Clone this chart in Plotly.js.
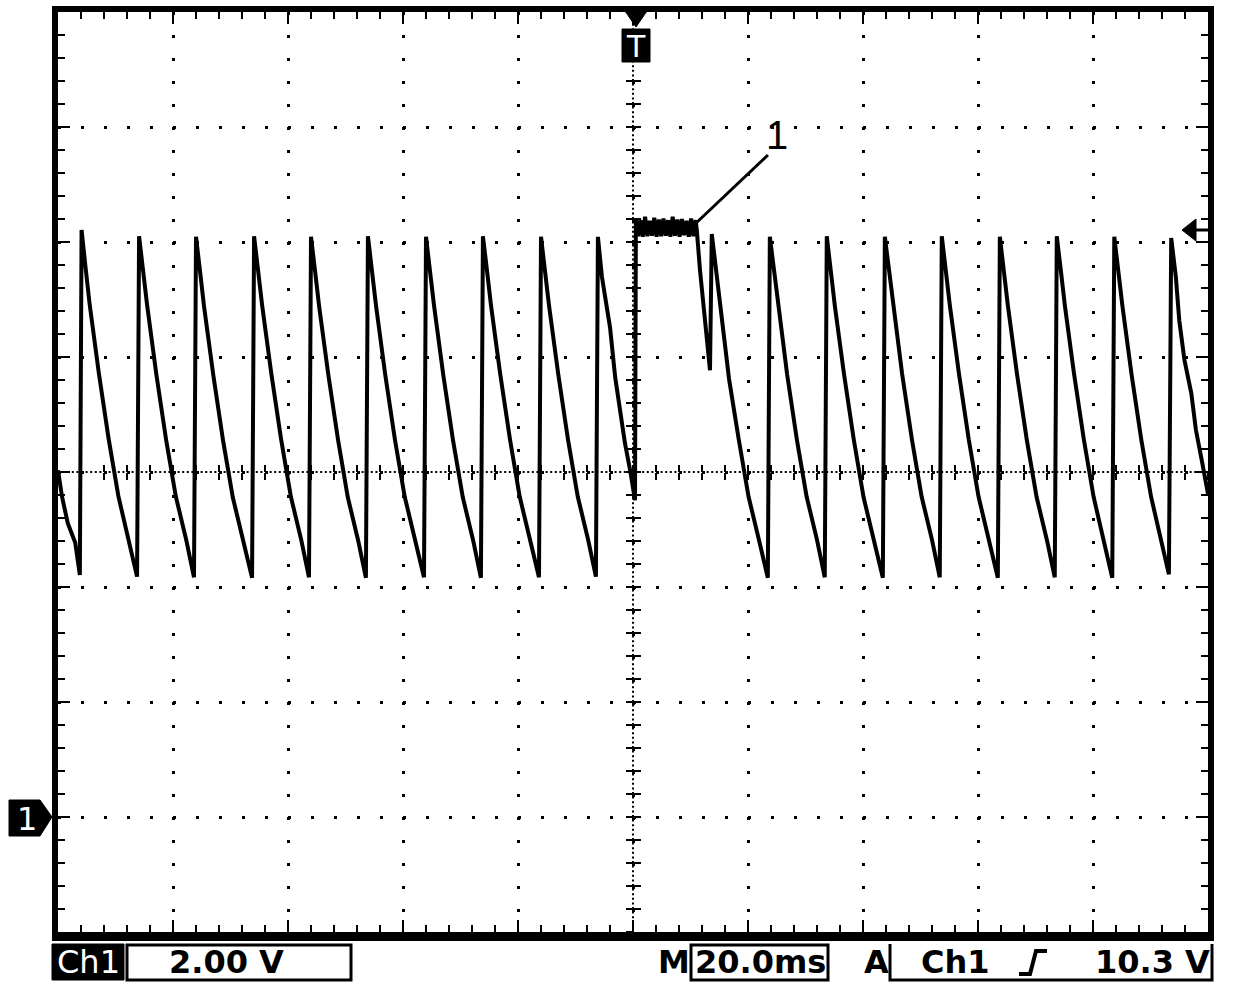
<!DOCTYPE html>
<html>
<head>
<meta charset="utf-8">
<script src="https://cdn.plot.ly/plotly-3.0.1.min.js"></script>
<style>
  html, body { margin: 0; padding: 0; background: #ffffff; }
  #chart { width: 1248px; height: 992px; }
</style>
</head>
<body>
<div id="chart"></div>
<script>
// ---- Data (time in ms, voltage in V) ----
const timeMs = [
  -100, -99.3, -98.3, -97.0, -96.2,
  -95.9, -95.2, -94.5, -92.9, -91.2, -89.5, -87.7, -86.25,
  -85.9, -85.2, -84.5, -82.9, -81.2, -79.5, -77.7, -76.35,
  -76.0, -75.3, -74.6, -73.0, -71.3, -69.6, -67.8, -66.25,
  -65.9, -65.2, -64.5, -62.9, -61.2, -59.5, -57.7, -56.35,
  -56.0, -55.3, -54.6, -53.0, -51.3, -49.6, -47.8, -46.45,
  -46.1, -45.4, -44.7, -43.1, -41.4, -39.7, -37.9, -36.35,
  -36.0, -35.3, -34.6, -33.0, -31.3, -29.6, -27.8, -26.45,
  -26.1, -25.4, -24.7, -23.1, -21.4, -19.7, -17.9, -16.35,
  -16.0, -15.3, -14.6, -13.0, -11.3, -9.6, -7.8, -6.45,
  -6.1, -5.4, -4.9, -4.0, -3.1, -2.3, -1.4, -0.5, 0.35,
  0.5, 0.9, 1.3, 1.7, 2.1, 2.5, 2.9, 3.3, 3.7, 4.1, 4.5, 4.9, 5.3, 5.7,
  6.1, 6.5, 6.9, 7.3, 7.7, 8.1, 8.5, 8.9, 9.3, 9.7, 10.1, 10.5, 10.9, 11.1,
  11.65, 12.52, 13.39,
  13.7, 14.4, 15.1, 16.7, 18.4, 20.1, 21.9, 23.45,
  23.8, 24.5, 25.2, 26.8, 28.5, 30.2, 32.0, 33.35,
  33.7, 34.4, 35.1, 36.7, 38.4, 40.1, 41.9, 43.45,
  43.8, 44.5, 45.2, 46.8, 48.5, 50.2, 52.0, 53.35,
  53.7, 54.4, 55.1, 56.7, 58.4, 60.1, 61.9, 63.45,
  63.8, 64.5, 65.2, 66.8, 68.5, 70.2, 72.0, 73.35,
  73.7, 74.4, 75.1, 76.7, 78.4, 80.1, 81.9, 83.35,
  83.7, 84.4, 85.1, 86.7, 88.4, 90.1, 91.9, 93.2,
  93.6, 94.4, 95.0, 95.9, 97.1, 97.9, 99.0, 100
];
const voltageV = [
  6.03, 5.57, 5.11, 4.77, 4.21,
  10.21, 9.55, 8.92, 7.72, 6.58, 5.58, 4.83, 4.18,
  10.10, 9.50, 8.90, 7.70, 6.56, 5.57, 4.82, 4.17,
  10.09, 9.49, 8.88, 7.69, 6.55, 5.56, 4.81, 4.16,
  10.10, 9.51, 8.90, 7.71, 6.57, 5.57, 4.82, 4.17,
  10.09, 9.50, 8.89, 7.70, 6.56, 5.56, 4.81, 4.16,
  10.10, 9.50, 8.90, 7.70, 6.56, 5.57, 4.82, 4.17,
  10.09, 9.49, 8.89, 7.69, 6.55, 5.56, 4.81, 4.16,
  10.10, 9.51, 8.90, 7.71, 6.57, 5.57, 4.82, 4.17,
  10.09, 9.50, 8.89, 7.70, 6.56, 5.57, 4.82, 4.18,
  10.09, 9.39, 9.04, 8.52, 7.65, 7.08, 6.50, 6.03, 5.51,
  10.40, 10.10, 10.38, 10.09, 10.44, 10.10, 10.37, 10.11, 10.42, 10.09, 10.39, 10.10, 10.41, 10.11,
  10.38, 10.09, 10.44, 10.11, 10.39, 10.09, 10.40, 10.12, 10.37, 10.09, 10.41, 10.10, 10.38, 10.20,
  9.51, 8.64, 7.77,
  10.14, 9.55, 8.95, 7.62, 6.56, 5.57, 4.82, 4.16,
  10.09, 9.50, 8.90, 7.70, 6.56, 5.57, 4.82, 4.17,
  10.10, 9.50, 8.89, 7.70, 6.56, 5.56, 4.81, 4.16,
  10.09, 9.51, 8.90, 7.71, 6.57, 5.57, 4.82, 4.17,
  10.10, 9.50, 8.90, 7.70, 6.56, 5.57, 4.82, 4.16,
  10.09, 9.49, 8.89, 7.69, 6.55, 5.56, 4.81, 4.17,
  10.10, 9.51, 8.90, 7.71, 6.57, 5.57, 4.82, 4.16,
  10.09, 9.50, 8.90, 7.70, 6.56, 5.57, 4.82, 4.22,
  10.07, 9.40, 8.64, 7.95, 7.37, 6.73, 6.16, 5.62
];
const timeRange = [-100, 100];     // 10 div x 20.0 ms
const voltRange = [-2, 14];        // 8 div x 2.00 V, ground 1 div above bottom
const channelLabel = "Ch1";
const voltsPerDiv = "2.00 V";
const timePerDiv = "20.0ms";
const trigSource = "Ch1";
const trigLevel = "10.3 V";
const markerLabel = "1";

// ---- Layout helpers (pixel -> paper) ----
const W = 1248, H = 992, L = 58, R = 1208, T = 12, B = 932;
const px = x => (x - L) / (R - L);
const py = y => (B - y) / (B - T);

const traces = [
  { x: timeMs, y: voltageV, type: 'scatter', mode: 'lines',
    line: { color: '#000', width: 4 }, hoverinfo: 'skip', showlegend: false },
  { x: [], y: [], xaxis: 'x2', yaxis: 'y2', type: 'scatter', showlegend: false },
  { x: [], y: [], xaxis: 'x3', yaxis: 'y3', type: 'scatter', showlegend: false }
];

const baseAxis = {
  showticklabels: false, zeroline: false, fixedrange: true
};

const layout = {
  width: W, height: H,
  margin: { l: L, r: W - R, t: T, b: H - B, pad: 0 },
  paper_bgcolor: '#fff', plot_bgcolor: '#fff',
  showlegend: false,
  xaxis: Object.assign({}, baseAxis, {
    range: timeRange, dtick: 20, tick0: 0,
    showgrid: true, gridcolor: '#000', gridwidth: 3, griddash: '3px,20px',
    ticks: 'inside', ticklen: 12, tickwidth: 2, tickcolor: '#000',
    showline: true, linecolor: '#000', linewidth: 6, mirror: 'ticks',
    minor: { dtick: 4, tick0: 0, ticks: 'inside', ticklen: 7, tickwidth: 2, tickcolor: '#000', showgrid: false }
  }),
  yaxis: Object.assign({}, baseAxis, {
    range: voltRange, dtick: 2, tick0: 0,
    showgrid: true, gridcolor: '#000', gridwidth: 3, griddash: '3px,20px',
    ticks: 'inside', ticklen: 12, tickwidth: 2, tickcolor: '#000',
    showline: true, linecolor: '#000', linewidth: 6, mirror: 'ticks',
    minor: { dtick: 0.4, tick0: 0, ticks: 'inside', ticklen: 7, tickwidth: 2, tickcolor: '#000', showgrid: false }
  }),
  xaxis2: Object.assign({}, baseAxis, {
    range: timeRange, overlaying: 'x', anchor: 'free', position: 0.5,
    showgrid: false, showline: false, ticks: 'outside', ticklen: 7, tickwidth: 1.5,
    tickcolor: '#000', dtick: 4, tick0: 0
  }),
  xaxis3: Object.assign({}, baseAxis, {
    range: timeRange, overlaying: 'x', anchor: 'free', position: 0.5,
    showgrid: false, showline: false, ticks: 'inside', ticklen: 7, tickwidth: 1.5,
    tickcolor: '#000', dtick: 4, tick0: 0
  }),
  yaxis2: Object.assign({}, baseAxis, {
    range: voltRange, overlaying: 'y', anchor: 'free', position: 0.5,
    showgrid: false, showline: false, ticks: 'outside', ticklen: 7, tickwidth: 1.5,
    tickcolor: '#000', dtick: 0.4, tick0: 0
  }),
  yaxis3: Object.assign({}, baseAxis, {
    range: voltRange, overlaying: 'y', anchor: 'free', position: 0.5,
    showgrid: false, showline: false, ticks: 'inside', ticklen: 7, tickwidth: 1.5,
    tickcolor: '#000', dtick: 0.4, tick0: 0
  }),
  shapes: [
    // dense center cross lines
    { type: 'line', xref: 'paper', yref: 'paper', x0: 0, x1: 1, y0: 0.5, y1: 0.5,
      line: { color: '#000', width: 2, dash: '2px,2.6px' }, layer: 'below' },
    { type: 'line', xref: 'paper', yref: 'paper', x0: 0.5, x1: 0.5, y0: 0, y1: 1,
      line: { color: '#000', width: 2, dash: '2px,2.6px' }, layer: 'below' },
    // thicker bottom frame edge
    { type: 'rect', xref: 'paper', yref: 'paper', x0: px(52), x1: px(1214), y0: py(933), y1: py(941),
      fillcolor: '#000', line: { width: 0 } },
    // trigger position marker (top)
    { type: 'path', xref: 'paper', yref: 'paper',
      path: `M${px(625)},${py(11)} L${px(647)},${py(11)} L${px(636)},${py(27)} Z`,
      fillcolor: '#000', line: { color: '#000', width: 1 } },
    { type: 'rect', xref: 'paper', yref: 'paper',
      x0: px(622), x1: px(650), y0: py(29), y1: py(62),
      fillcolor: '#000', line: { color: '#000', width: 1 } },
    // ground marker (left)
    { type: 'path', xref: 'paper', yref: 'paper',
      path: `M${px(9)},${py(800)} L${px(40)},${py(800)} L${px(52)},${py(817)} L${px(40)},${py(836)} L${px(9)},${py(836)} Z`,
      fillcolor: '#000', line: { color: '#000', width: 1 } },
    // trigger level arrow (right)
    { type: 'path', xref: 'paper', yref: 'paper',
      path: `M${px(1182)},${py(230)} L${px(1196)},${py(219)} L${px(1196)},${py(241)} Z`,
      fillcolor: '#000', line: { color: '#000', width: 1 } },
    { type: 'line', xref: 'paper', yref: 'paper', x0: px(1194), x1: px(1208), y0: py(230), y1: py(230),
      line: { color: '#000', width: 3 } },
    // leader line for label "1"
    { type: 'line', xref: 'paper', yref: 'paper', x0: px(694), x1: px(768), y0: py(225), y1: py(155),
      line: { color: '#000', width: 3 } },
    // status bar boxes
    { type: 'rect', xref: 'paper', yref: 'paper', x0: px(52), x1: px(124), y0: py(944), y1: py(980),
      fillcolor: '#000', line: { color: '#000', width: 1 } },
    { type: 'rect', xref: 'paper', yref: 'paper', x0: px(127), x1: px(351), y0: py(945), y1: py(980),
      fillcolor: 'rgba(0,0,0,0)', line: { color: '#000', width: 3 } },
    { type: 'rect', xref: 'paper', yref: 'paper', x0: px(691), x1: px(828), y0: py(945), y1: py(980),
      fillcolor: 'rgba(0,0,0,0)', line: { color: '#000', width: 3 } },
    { type: 'path', xref: 'paper', yref: 'paper',
      path: `M${px(890)},${py(944)} L${px(890)},${py(980)} L${px(1212)},${py(980)} L${px(1212)},${py(944)}`,
      line: { color: '#000', width: 3 } },
    // rising edge symbol
    { type: 'path', xref: 'paper', yref: 'paper',
      path: `M${px(1019)},${py(974)} L${px(1030)},${py(974)} L${px(1036)},${py(951)} L${px(1047)},${py(951)}`,
      line: { color: '#000', width: 4 } }
  ],
  annotations: [
    { xref: 'paper', yref: 'paper', x: px(636), y: py(46), text: 'T', showarrow: false,
      font: { family: 'DejaVu Sans', size: 30, color: '#fff' }, xanchor: 'center', yanchor: 'middle' },
    { xref: 'paper', yref: 'paper', x: px(27), y: py(819), text: markerLabel, showarrow: false,
      font: { family: 'DejaVu Sans', size: 32, color: '#fff' }, xanchor: 'center', yanchor: 'middle' },
    { xref: 'paper', yref: 'paper', x: px(777), y: py(135), text: markerLabel, showarrow: false,
      font: { family: 'Liberation Sans', size: 40, color: '#000' }, xanchor: 'center', yanchor: 'middle' },
    { xref: 'paper', yref: 'paper', x: px(88), y: py(962), text: channelLabel, showarrow: false,
      font: { family: 'DejaVu Sans', size: 32, color: '#fff' }, xanchor: 'center', yanchor: 'middle' },
    { xref: 'paper', yref: 'paper', x: px(226), y: py(962), text: voltsPerDiv, showarrow: false,
      font: { family: 'DejaVu Sans', size: 32, color: '#000', weight: 'bold' }, xanchor: 'center', yanchor: 'middle' },
    { xref: 'paper', yref: 'paper', x: px(674), y: py(962), text: 'M', showarrow: false,
      font: { family: 'DejaVu Sans', size: 32, color: '#000', weight: 'bold' }, xanchor: 'center', yanchor: 'middle' },
    { xref: 'paper', yref: 'paper', x: px(760), y: py(962), text: timePerDiv, showarrow: false,
      font: { family: 'DejaVu Sans', size: 32, color: '#000', weight: 'bold' }, xanchor: 'center', yanchor: 'middle' },
    { xref: 'paper', yref: 'paper', x: px(876), y: py(962), text: 'A', showarrow: false,
      font: { family: 'DejaVu Sans', size: 32, color: '#000', weight: 'bold' }, xanchor: 'center', yanchor: 'middle' },
    { xref: 'paper', yref: 'paper', x: px(955), y: py(962), text: trigSource, showarrow: false,
      font: { family: 'DejaVu Sans', size: 32, color: '#000', weight: 'bold' }, xanchor: 'center', yanchor: 'middle' },
    { xref: 'paper', yref: 'paper', x: px(1152), y: py(962), text: trigLevel, showarrow: false,
      font: { family: 'DejaVu Sans', size: 32, color: '#000', weight: 'bold' }, xanchor: 'center', yanchor: 'middle' }
  ]
};

Plotly.newPlot('chart', traces, layout, { staticPlot: true, displayModeBar: false });
</script>
</body>
</html>
